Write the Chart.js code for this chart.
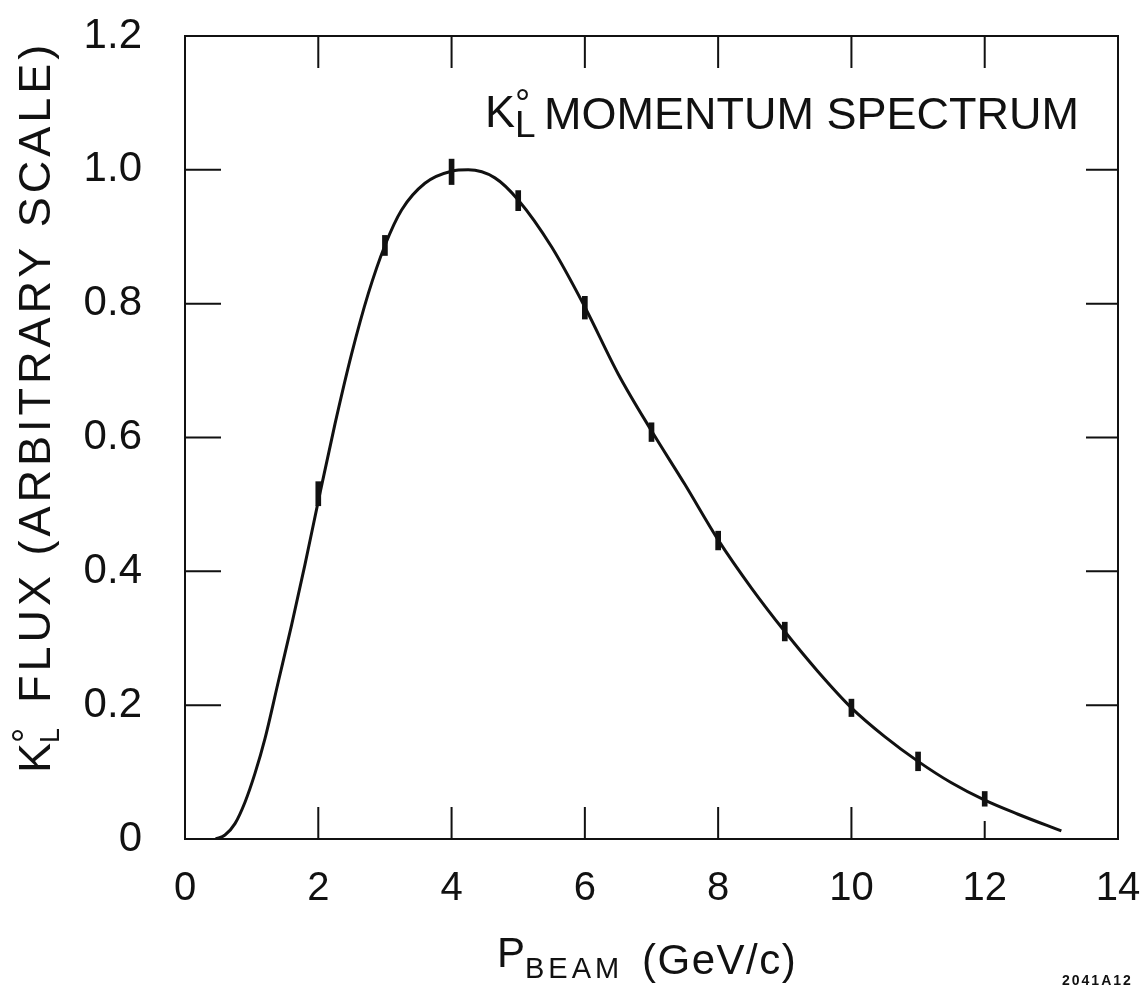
<!DOCTYPE html>
<html lang="en">
<head>
<meta charset="UTF-8">
<title>KL momentum spectrum</title>
<script src="https://cdn.jsdelivr.net/npm/chart.js@4.4.1/dist/chart.umd.min.js"></script>
<style>
  html, body { margin: 0; padding: 0; background: #fff; }
  canvas { display: block; }
</style>
</head>
<body>
<canvas id="spectrum" width="1141" height="986"></canvas>
<script>
// smooth fitted curve
const curveP    = [0.46, 0.6, 0.75, 0.9, 1.05, 1.2, 1.4, 1.6, 1.8, 2.0, 2.25, 2.5, 2.75, 3.0, 3.25, 3.6, 4.0, 4.25, 4.65, 5.0, 5.5, 6.0, 6.5, 7.0, 7.5, 8.0, 8.5, 9.0, 9.5, 10.0, 10.5, 11.0, 11.5, 12.0, 12.5, 13.15];
const curveFlux = [0, 0.006, 0.023, 0.055, 0.098, 0.15, 0.235, 0.32, 0.41, 0.505, 0.62, 0.725, 0.815, 0.887, 0.94, 0.98, 0.998, 1.0, 0.988, 0.955, 0.885, 0.795, 0.695, 0.61, 0.53, 0.447, 0.375, 0.31, 0.25, 0.196, 0.153, 0.116, 0.084, 0.058, 0.037, 0.012];

// measured points with error bars
const pointP    = [2, 3, 4, 5, 6, 7, 8, 9, 10, 11, 12];
const pointFlux = [0.516, 0.887, 0.997, 0.954, 0.794, 0.608, 0.446, 0.31, 0.196, 0.116, 0.06];
const pointErr  = [0.018, 0.015, 0.019, 0.015, 0.017, 0.014, 0.014, 0.014, 0.013, 0.014, 0.011];

// inner tick marks
const xTickVals = [2, 4, 6, 8, 10, 12];
const yTickVals = [0.2, 0.4, 0.6, 0.8, 1.0];

const INK = '#111';
const FONT = '"Liberation Sans", Arial, sans-serif';

// draw a run of text pieces (sub/superscripts) left to right
function drawRun(ctx, x, y, parts) {
  parts.forEach(p => {
    ctx.font = p.size + 'px ' + FONT;
    ctx.letterSpacing = (p.ls || 0) + 'px';
    ctx.fillText(p.t, x + (p.dx || 0), y + (p.dy || 0));
    if (!p.stay) x += ctx.measureText(p.t).width + (p.dx || 0);
  });
}

const frameAndLabels = {
  id: 'frameAndLabels',
  afterDatasetsDraw(chart) {
    const { ctx, chartArea: a, scales: { x, y } } = chart;
    ctx.save();
    ctx.strokeStyle = INK;
    ctx.lineWidth = 2;
    ctx.strokeRect(a.left, a.top, a.right - a.left, a.bottom - a.top);
    ctx.beginPath();
    xTickVals.forEach(v => {
      const px = x.getPixelForValue(v);
      ctx.moveTo(px, a.bottom); ctx.lineTo(px, a.bottom - (v === 12 ? 18 : 32));
      ctx.moveTo(px, a.top); ctx.lineTo(px, a.top + 32);
    });
    yTickVals.forEach(v => {
      const py = y.getPixelForValue(v);
      ctx.moveTo(a.left, py); ctx.lineTo(a.left + 36, py);
      ctx.moveTo(a.right, py); ctx.lineTo(a.right - 32, py);
    });
    ctx.stroke();

    ctx.fillStyle = INK;
    ctx.textBaseline = 'alphabetic';
    ctx.textAlign = 'left';

    // title inside the frame
    drawRun(ctx, 485, 127, [
      { t: 'K', size: 45 },
      { t: '\u00B0', size: 38, dy: -11, stay: true },
      { t: 'L', size: 37, dy: 10 }
    ]);
    drawRun(ctx, 544, 129, [{ t: 'MOMENTUM SPECTRUM', size: 45 }]);

    // x axis title
    drawRun(ctx, 497, 967, [{ t: 'P', size: 42 }]);
    drawRun(ctx, 525, 978, [{ t: 'BEAM', size: 29, ls: 4 }]);
    drawRun(ctx, 642, 974, [{ t: '(GeV/c)', size: 42, ls: 1.5 }]);

    // y axis title, rotated
    ctx.save();
    ctx.translate(50, 773);
    ctx.rotate(-Math.PI / 2);
    drawRun(ctx, 0, 0, [
      { t: 'K', size: 45 },
      { t: '\u00B0', size: 38, dy: -11, stay: true },
      { t: 'L', size: 27, dy: 9 }
    ]);
    drawRun(ctx, 70, 0, [{ t: 'FLUX (ARBITRARY SCALE)', size: 45, ls: 4 }]);
    ctx.restore();

    // drawing number
    ctx.font = 'bold 14px ' + FONT;
    ctx.letterSpacing = '2px';
    ctx.fillText('2041A12', 1062, 985);
    ctx.restore();
  }
};

const curveData = curveP.map((p, i) => ({ x: p, y: curveFlux[i] }));
const errData = pointP.map((p, i) => ({ x: p, y: [pointFlux[i] - pointErr[i], pointFlux[i] + pointErr[i]] }));

// keep edge tick labels from shrinking the plot area
function noEdgePad(s) {
  s.paddingLeft = 0; s.paddingRight = 0; s.paddingTop = 0; s.paddingBottom = 0;
}

new Chart(document.getElementById('spectrum'), {
  type: 'bar',
  data: {
    datasets: [{
      type: 'line',
      data: curveData,
      borderColor: INK,
      borderWidth: 3,
      pointRadius: 0,
      cubicInterpolationMode: 'monotone',
      fill: false,
      order: 1
    }, {
      type: 'bar',
      data: errData,
      backgroundColor: INK,
      barThickness: 5,
      grouped: false,
      order: 0
    }]
  },
  options: {
    responsive: false,
    animation: false,
    layout: { padding: { top: 36, right: 23, left: 0, bottom: 0 } },
    plugins: { legend: { display: false }, tooltip: { enabled: false } },
    scales: {
      x: {
        type: 'linear',
        offset: false,
        min: 0, max: 14,
        grid: { display: false },
        border: { display: false },
        afterFit: s => { s.height = 147; noEdgePad(s); },
        ticks: {
          stepSize: 2,
          padding: 18,
          color: INK,
          font: { family: FONT, size: 40 }
        }
      },
      y: {
        min: 0, max: 1.2,
        grid: { display: false },
        border: { display: false },
        afterFit: s => { s.width = 185; noEdgePad(s); },
        ticks: {
          stepSize: 0.2,
          padding: 35,
          color: INK,
          font: { family: FONT, size: 42 },
          callback: v => (v === 0 ? '0' : v.toFixed(1))
        }
      }
    }
  },
  plugins: [frameAndLabels]
});
</script>
</body>
</html>
